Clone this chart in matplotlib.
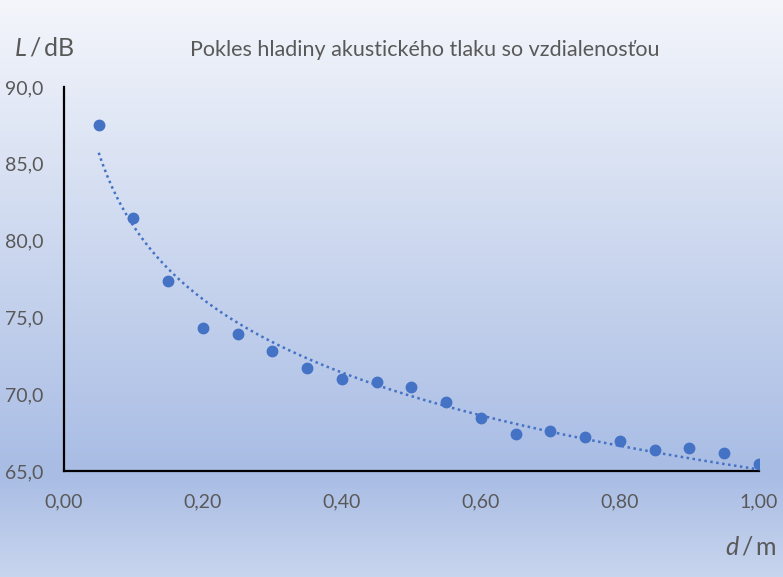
import numpy as np
import matplotlib
matplotlib.use("Agg")
import matplotlib.pyplot as plt

plt.rcParams['font.family'] = ['Lato', 'DejaVu Sans']
plt.rcParams['mathtext.fontset'] = 'custom'
plt.rcParams['mathtext.it'] = 'Lato:italic'
plt.rcParams['mathtext.rm'] = 'Lato'

# Measured data: distance d (m) and sound level L (dB)
d = [0.05, 0.10, 0.15, 0.20, 0.25, 0.30, 0.35, 0.40, 0.45, 0.50,
     0.55, 0.60, 0.65, 0.70, 0.75, 0.80, 0.85, 0.90, 0.95, 1.00]
L = [87.5, 81.5, 77.4, 74.3, 73.9, 72.8, 71.7, 71.0, 70.8, 70.5,
     69.5, 68.45, 67.4, 67.6, 67.2, 66.95, 66.4, 66.5, 66.2, 65.45]

x_ticks = [0.0, 0.2, 0.4, 0.6, 0.8, 1.0]
y_ticks = [65, 70, 75, 80, 85, 90]

blue = '#4472C4'
grey = '#595959'

fig = plt.figure(figsize=(7.83, 5.77), dpi=100)

# gradient background
bg = fig.add_axes([0, 0, 1, 1], zorder=-10)
top = np.array([244, 246, 251]) / 255
mid = np.array([168, 188, 228]) / 255
bot = np.array([200, 213, 238]) / 255
n = 577
rows = []
for i in range(n):
    t = i / (n - 1)
    if t < 0.82:
        c = top + (mid - top) * (t / 0.82)
    else:
        c = mid + (bot - mid) * ((t - 0.82) / 0.18)
    rows.append(c)
grad = np.array(rows)[:, None, :]
bg.imshow(grad, aspect='auto', extent=[0, 1, 0, 1])
bg.axis('off')

ax = fig.add_axes([0.0817, 0.1837, 0.8876, 0.6655])
ax.patch.set_alpha(0)

# logarithmic trendline
coef = np.polyfit(np.log(d), L, 1)
xt = np.linspace(d[0], d[-1], 300)
ax.plot(xt, coef[0] * np.log(xt) + coef[1], color=blue, lw=1.8,
        linestyle=(0, (1, 1.4)), zorder=2)
ax.plot(d, L, 'o', color=blue, markersize=7.5, zorder=3)

ax.set_xlim(0, 1.0)
ax.set_ylim(65, 90)
ax.set_xticks(x_ticks)
ax.set_yticks(y_ticks)
ax.set_xticklabels([f'{v:.2f}'.replace('.', ',') for v in x_ticks])
ax.set_yticklabels([f'{v:.1f}'.replace('.', ',') for v in y_ticks])
ax.tick_params(length=0, labelsize=14, colors=grey)
ax.tick_params(axis='x', pad=16)
ax.tick_params(axis='y', pad=15)
for s in ['top', 'right']:
    ax.spines[s].set_visible(False)
for s in ['left', 'bottom']:
    ax.spines[s].set_linewidth(1.6)
    ax.spines[s].set_color('black')

fig.text(0.543, 0.913, 'Pokles hladiny akustického tlaku so vzdialenosťou',
         ha='center', va='center', fontsize=15.5, color=grey)
fig.text(0.018, 0.917, '$L$/dB'.replace('/', '\u2009/\u2009'), ha='left', va='center',
         fontsize=18, color=grey)
fig.text(0.992, 0.052, '$d$\u2009/\u2009m', ha='right', va='center',
         fontsize=18, color=grey)

fig.savefig('out.png', dpi=100)
